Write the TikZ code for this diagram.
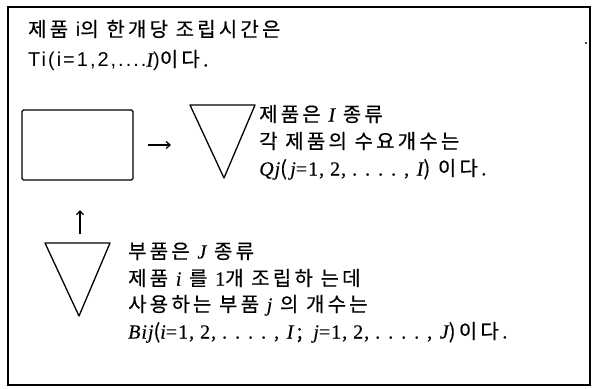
\documentclass[tikz,border=0pt]{standalone}
\usepackage{fontspec}
\setmainfont{Noto Sans CJK KR}[LetterSpace=16, FakeBold=0.4]
\newfontfamily\lser{Liberation Serif}[LetterSpace=5, FakeBold=0.3]
\newfontfamily\lsans{Liberation Sans}[LetterSpace=10]
\usetikzlibrary{arrows.meta}
\tikzset{
  frame/.style={draw=black, line width=1.5pt},
  shapeline/.style={draw=black, line width=1.3pt, line join=round},
  txt/.style={anchor=west, inner sep=0pt, font=\fontsize{20}{23}\selectfont, text height=0.8em, text depth=0.1em},
  arr/.style={line width=1.2pt, -{Straight Barb[length=4pt,width=7pt,line width=1.2pt]}},
}
\newcommand{\myit}[1]{{\lser\itshape #1}}
\newcommand{\myrm}[1]{{\lser #1}}
\begin{document}
\begin{tikzpicture}[x=1pt,y=-1pt]
\useasboundingbox (0,0) rectangle (594,388);
\draw[frame] (8,7) rectangle (590,385);
\fill (586,43) circle (1.2pt);

% top text
\node[txt] (t1) at (28,33) {제품 {\lsans i}의 한개당 조립시간은};
\node[txt] (t2) at (28,63) {{\lsans Ti(i=1,2,....{\itshape\lser I})}이다.};

% rectangle
\node[shapeline, rounded corners=1.5pt, minimum width=111pt, minimum height=70pt, inner sep=0pt] (box) at (77.5,145) {};

% product triangle
\coordinate (p1) at (190,105);
\coordinate (p2) at (255,105);
\coordinate (p3) at (224,178);
\draw[shapeline] (p1) -- (p2) -- (p3) -- cycle;

% part triangle
\coordinate (q1) at (45,243);
\coordinate (q2) at (110,243);
\coordinate (q3) at (79,316);
\draw[shapeline] (q1) -- (q2) -- (q3) -- cycle;

% arrows
\coordinate (a1) at (148,145);
\coordinate (a2) at (171,145);
\draw[arr] (a1) -- (a2);
\coordinate (b1) at (80,234);
\coordinate (b2) at (80,210);
\draw[arr] (b1) -- (b2);

% right text
\node[txt] (r1) at (259,118) {제품은 \myit{I} 종류};
\node[txt] (r2) at (259,145) {각 제품의 수요개수는};
\node[txt] (r3) at (259,172) {\myit{Qj}(\,\myit{j}\myrm{=1, 2, . . . . ,} \myit{I}) 이다.};

% bottom text
\node[txt] (s1) at (128,255) {부품은 \myit{J} 종류};
\node[txt] (s2) at (128,282) {제품 \myit{i} 를 \myrm{1}개 조립하 는데};
\node[txt] (s3) at (128,308) {사용하는 부품 \myit{j} 의 개수는};
\node[txt] (s4) at (128,335) {\myit{Bij}(\myit{i}\myrm{=1, 2, . . . . ,} \myit{I}\,;\, \myit{j}\myrm{=1, 2, . . . . ,} \myit{J})\,이다.};
\end{tikzpicture}
\end{document}
